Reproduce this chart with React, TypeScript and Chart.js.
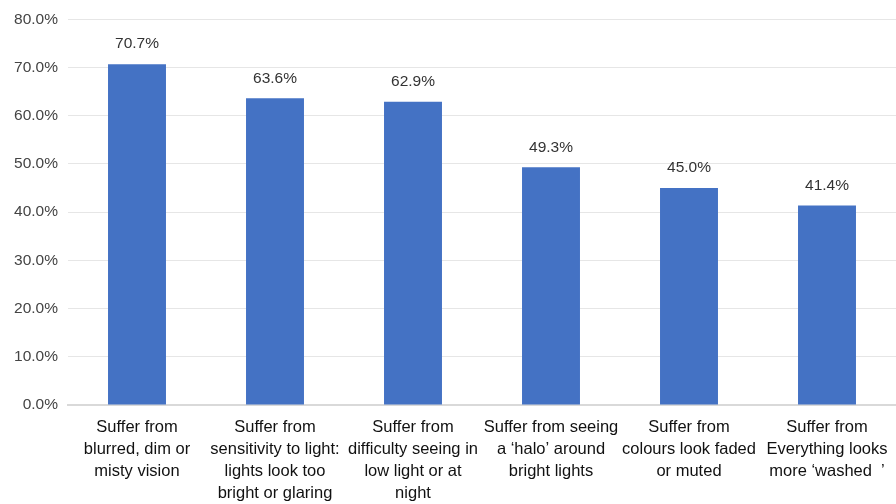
import React, { useEffect, useRef } from "react";
import { Chart, registerables } from "chart.js";

Chart.register(...registerables);

const categories: string[][] = [
  ["Suffer from", "blurred, dim or", "misty vision"],
  ["Suffer from", "sensitivity to light:", "lights look too", "bright or glaring"],
  ["Suffer from", "difficulty seeing in", "low light or at", "night"],
  ["Suffer from seeing", "a \u2018halo\u2019 around", "bright lights"],
  ["Suffer from", "colours look faded", "or muted"],
  ["Suffer from", "Everything looks", "more \u2018washed  \u2019"],
];
const values: number[] = [70.7, 63.6, 62.9, 49.3, 45.0, 41.4];
const yTicks: number[] = [0, 10, 20, 30, 40, 50, 60, 70, 80];

const FONT = "'Liberation Sans', Arial, Helvetica, sans-serif";

const dataLabels = {
  id: "dataLabels",
  afterDatasetsDraw(chart: any) {
    const ctx = chart.ctx;
    const meta = chart.getDatasetMeta(0);
    ctx.save();
    ctx.font = `15.5px ${FONT}`;
    ctx.fillStyle = "#333333";
    ctx.textAlign = "center";
    ctx.textBaseline = "middle";
    meta.data.forEach((bar: any, i: number) => {
      const v = chart.data.datasets[0].data[i] as number;
      ctx.fillText(v.toFixed(1) + "%", bar.x, bar.y - 20);
    });
    ctx.restore();
  },
};

export default function App() {
  const ref = useRef<HTMLCanvasElement>(null);
  useEffect(() => {
    document.body.style.margin = "0";
    const chart = new Chart(ref.current!, {
      type: "bar",
      data: {
        labels: categories,
        datasets: [
          {
            data: values,
            backgroundColor: "#4472c4",
            borderWidth: 0,
            categoryPercentage: 1,
            barPercentage: 0.42,
          },
        ],
      },
      options: {
        animation: false,
        responsive: false,
        maintainAspectRatio: false,
        layout: { padding: { top: 17, right: 0, left: 0, bottom: 0 } },
        plugins: { legend: { display: false }, tooltip: { enabled: false } },
        scales: {
          x: {
            grid: { display: false },
            border: { color: "#d9d9d9", width: 2 },
            ticks: {
              autoSkip: false,
              maxRotation: 0,
              minRotation: 0,
              color: "#111111",
              padding: 3,
              font: { family: FONT, size: 16.5, lineHeight: "22px" as any },
            },
            afterFit(scale: any) {
              scale.height = 99;
            },
          },
          y: {
            min: 0,
            max: 80,
            afterBuildTicks(scale: any) {
              scale.ticks = yTicks.map((v) => ({ value: v }));
            },
            grid: { color: "#e6e6e6", lineWidth: 1, drawTicks: false },
            border: { display: false },
            ticks: {
              color: "#444444",
              padding: 10,
              font: { family: FONT, size: 15.5 },
              callback: (v: any) => Number(v).toFixed(1) + "%",
            },
            afterFit(scale: any) {
              scale.width = 68;
            },
          },
        },
      },
      plugins: [dataLabels],
    });
    return () => chart.destroy();
  }, []);
  return (
    <div style={{ position: "absolute", left: 0, top: 0, width: 896, height: 504, background: "#fff" }}>
      <canvas ref={ref} width={896} height={504} />
    </div>
  );
}
